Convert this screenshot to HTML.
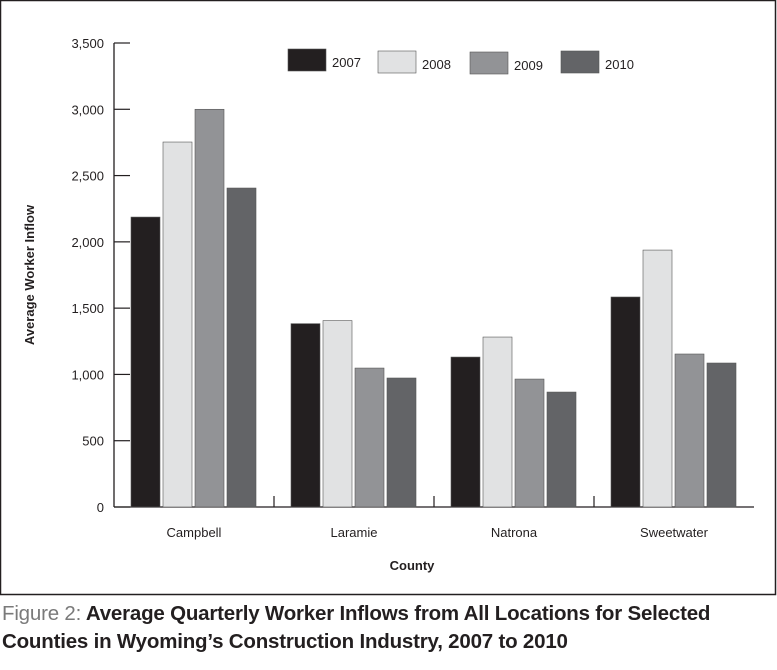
<!DOCTYPE html>
<html><head><meta charset="utf-8"><style>
body{margin:0;background:#fff;width:777px;height:670px;overflow:hidden;font-family:"Liberation Sans",sans-serif}
.cap{position:absolute;left:2px;top:600px;font-size:20.5px;font-weight:bold;color:#231f20;line-height:28px;letter-spacing:-0.2px}
.cap span{color:#7a7a7a;font-weight:normal}
</style></head><body>
<svg width="777" height="600" style="position:absolute;left:0;top:0">
<rect x="0.5" y="0.5" width="775" height="594" fill="none" stroke="#231f20" stroke-width="1.5"/>
<g id="plot"></g>
</svg>
<div class="cap"><span>Figure 2:</span> Average Quarterly Worker Inflows from All Locations for Selected<br>Counties in Wyoming’s Construction Industry, 2007 to 2010</div>
<script>
const categories=["Campbell","Laramie","Natrona","Sweetwater"];
const seriesNames=["2007","2008","2009","2010"];
const v2007=[2187,1383,1131,1584];
const v2008=[2753,1406,1282,1938];
const v2009=[3000,1048,965,1154];
const v2010=[2406,973,867,1086];
const yTicks=[0,500,1000,1500,2000,2500,3000,3500];
const yTickLabels=["0","500","1,000","1,500","2,000","2,500","3,000","3,500"];
const series=[v2007,v2008,v2009,v2010];
const colors=["#231f20","#e1e2e3","#929396","#636467"];
const NS="http://www.w3.org/2000/svg";
const g=document.getElementById("plot");
const x0=114,groupW=160,y0=507,yTop=43,yMax=3500;
const y=v=>y0-(v/yMax)*(y0-yTop);
function mk(t,a){const e=document.createElementNS(NS,t);for(const k in a)e.setAttribute(k,a[k]);g.appendChild(e);return e;}
// axes
let e=mk("line",{x1:x0,y1:yTop,x2:x0,y2:y0,stroke:"#231f20","stroke-width":1.3});


e=mk("line",{x1:x0,y1:y0,x2:x0+groupW*categories.length,y2:y0,stroke:"#231f20","stroke-width":1.3});


yTicks.forEach((t,i)=>{
 const l=mk("line",{x1:x0,y1:y(t),x2:x0+16,y2:y(t),stroke:"#231f20","stroke-width":1.2});
 
 
 const tx=mk("text",{x:104,y:y(t)+5,"text-anchor":"end","font-size":13,fill:"#231f20"});
 tx.textContent=yTickLabels[i];
 
 
});
categories.forEach((c,ci)=>{
 const gx=x0+ci*groupW;
 if(ci>0){const l=mk("line",{x1:gx,y1:y0,x2:gx,y2:y0-11,stroke:"#231f20","stroke-width":1.2});
  
  }
 series.forEach((s,si)=>{
  const bx=gx+17+si*32;
  const r=mk("rect",{x:bx,y:y(s[ci]),width:29,height:y0-y(s[ci]),fill:colors[si],stroke:"#555","stroke-width":0.6});
  
  
 });
 const t=mk("text",{x:gx+80,y:537,"text-anchor":"middle","font-size":13,fill:"#231f20"});
 t.textContent=c;
 
 
});
e=mk("text",{x:412,y:570,"text-anchor":"middle","font-size":13,"font-weight":"bold",fill:"#231f20"});
e.textContent="County";


e=mk("text",{x:0,y:0,"text-anchor":"middle","font-size":13,"font-weight":"bold",fill:"#231f20",transform:"translate(34,275) rotate(-90)"});
e.textContent="Average Worker Inflow";


const lx=[288,378,470,561],ly=[49,51,52,51];
seriesNames.forEach((n,i)=>{
 const r=mk("rect",{x:lx[i],y:ly[i],width:38,height:22,fill:colors[i],stroke:"#555","stroke-width":0.6});
 
 
 const t=mk("text",{x:lx[i]+44,y:ly[i]+18,"font-size":13,fill:"#231f20"});
 t.textContent=n;
 
 
});
</script>
</body></html>
